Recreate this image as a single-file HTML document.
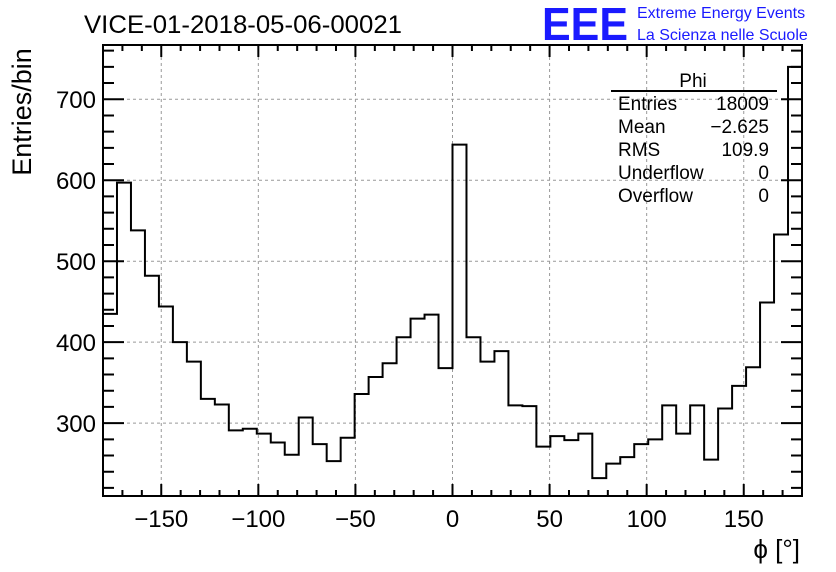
<!DOCTYPE html>
<html><head><meta charset="utf-8"><style>
body{margin:0;background:#fff;}
svg{display:block;font-family:"Liberation Sans",sans-serif;}
</style></head><body>
<svg id="c" width="836" height="572" xmlns="http://www.w3.org/2000/svg">
<text x="84" y="33" font-size="25" textLength="318" lengthAdjust="spacingAndGlyphs">VICE-01-2018-05-06-00021</text>
<text x="542" y="40" font-size="46" font-weight="bold" fill="#1a1aff" textLength="86" lengthAdjust="spacingAndGlyphs">EEE</text>
<text x="637" y="18" font-size="16" fill="#1a1aff">Extreme Energy Events</text>
<text x="637" y="40" font-size="16" fill="#1a1aff">La Scienza nelle Scuole</text>
<g id="grid"></g>
<g id="ticks"></g>
<g id="labels" font-size="24"></g>
<path id="hist" fill="none" stroke="#000" stroke-width="2"/>
<rect x="103" y="45" width="699" height="451" fill="none" stroke="#000" stroke-width="2"/>
<text transform="translate(31,112) rotate(-90)" font-size="27" text-anchor="middle">Entries/bin</text>
<text x="800" y="558" font-size="26" text-anchor="end">ϕ [°]</text>
<g font-size="19">
<text x="693" y="87" text-anchor="middle">Phi</text>
<line x1="611" y1="91" x2="777" y2="91" stroke="#000" stroke-width="2"/>
<text x="618" y="110">Entries</text><text x="769" y="110" text-anchor="end">18009</text>
<text x="618" y="133">Mean</text><text x="769" y="133" text-anchor="end">−2.625</text>
<text x="618" y="156">RMS</text><text x="769" y="156" text-anchor="end">109.9</text>
<text x="618" y="179">Underflow</text><text x="769" y="179" text-anchor="end">0</text>
<text x="618" y="202">Overflow</text><text x="769" y="202" text-anchor="end">0</text>
</g>
</svg>
<script>
const counts=[435,597,538,482,444,400,376,330,323,291,293,287,276,261,307,274,253,282,336,357,374,406,429,434,368,644,406,376,389,322,321,271,284,279,287,232,250,258,274,280,322,287,322,255,318,346,369,449,533,740];
const xTicks=[-150,-100,-50,0,50,100,150];
const yTicks=[300,400,500,600,700];
const X0=103,X1=802,Y0=496,Y1=45,XMIN=-180,XMAX=180,YMIN=210,YMAX=767;
const sx=v=>X0+(v-XMIN)/(XMAX-XMIN)*(X1-X0);
const sy=v=>Y0-(v-YMIN)/(YMAX-YMIN)*(Y0-Y1);
const NS="http://www.w3.org/2000/svg";
function mk(t,a,p){const e=document.createElementNS(NS,t);for(const k in a)e.setAttribute(k,a[k]);p.appendChild(e);return e;}
const grid=document.getElementById('grid'),ticks=document.getElementById('ticks'),labels=document.getElementById('labels');
xTicks.forEach(v=>{const l=mk('line',{x1:sx(v),x2:sx(v),y1:Y1,y2:Y0,stroke:'#999','stroke-dasharray':'3,3'},grid);


const t=mk('text',{x:sx(v),y:527,'text-anchor':'middle'},labels);t.textContent=v<0?'−'+(-v):v;

});
yTicks.forEach(v=>{const l=mk('line',{x1:X0,x2:X1,y1:sy(v),y2:sy(v),stroke:'#999','stroke-dasharray':'3,3'},grid);


const t=mk('text',{x:96,y:sy(v)+9,'text-anchor':'end'},labels);t.textContent=v;

});
let d='';
for(let v=-180;v<=180;v+=10){const maj=v%50===0,L=maj?12:6,x=sx(v);d+=`M${x},${Y0}v${-L}M${x},${Y1}v${L}`;}
for(let v=220;v<=760;v+=20){const maj=v%100===0,L=maj?21:11,y=sy(v);d+=`M${X0},${y}h${L}M${X1},${y}h${-L}`;}
mk('path',{d:d,stroke:'#000','stroke-width':2,fill:'none'},ticks);
const w=(XMAX-XMIN)/counts.length;
let p=`M${sx(XMIN)},${sy(counts[0])}`;
counts.forEach((c,i)=>{p+=`V${sy(c)}H${sx(XMIN+(i+1)*w)}`;});
document.getElementById('hist').setAttribute('d',p);
</script>
</body></html>
